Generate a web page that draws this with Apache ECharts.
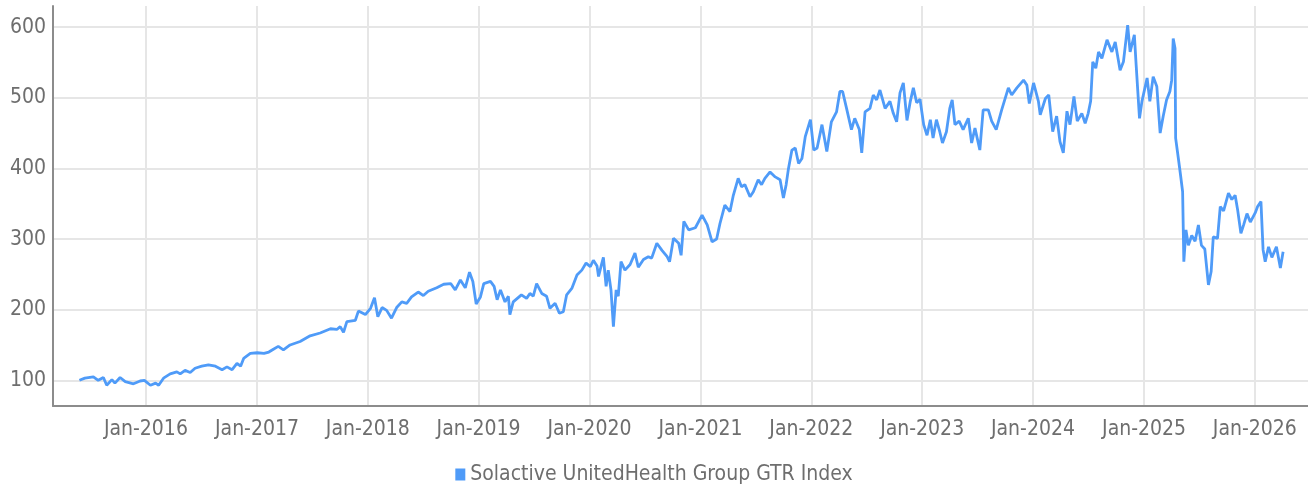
<!DOCTYPE html>
<html>
<head>
<meta charset="utf-8">
<script src="https://cdn.jsdelivr.net/npm/echarts@6/dist/echarts.min.js"></script>
<style>
html,body{margin:0;padding:0;background:#fff;}
#chart{width:1308px;height:491px;}
</style>
</head>
<body>
<div id="chart"></div>
<script>
const seriesName = 'Solactive UnitedHealth Group GTR Index';
const dates = [
'2015-05-27','2015-06-14','2015-07-12','2015-07-28','2015-08-14','2015-08-25','2015-09-11','2015-09-21','2015-10-08','2015-10-25','2015-11-21','2015-12-13','2015-12-27',
'2016-01-16','2016-02-02','2016-02-12','2016-02-28','2016-03-21','2016-04-12','2016-04-23','2016-05-09','2016-05-26','2016-06-11','2016-07-03','2016-07-25','2016-08-17','2016-09-08','2016-09-24','2016-10-11','2016-10-27','2016-11-08','2016-11-18','2016-12-10',
'2017-01-02','2017-01-24','2017-02-09','2017-02-24','2017-03-12','2017-03-29','2017-04-20','2017-05-23','2017-06-25','2017-07-28','2017-08-31','2017-09-21','2017-10-02','2017-10-13','2017-10-24','2017-11-21','2017-12-01','2017-12-24',
'2018-01-10','2018-01-23','2018-02-03','2018-02-17','2018-03-04','2018-03-20','2018-04-06','2018-04-23','2018-05-09','2018-05-25','2018-06-16','2018-07-03','2018-07-19','2018-08-16','2018-09-08','2018-10-01','2018-10-16','2018-11-02','2018-11-18','2018-12-02','2018-12-13','2018-12-24',
'2019-01-07','2019-01-18','2019-02-09','2019-02-21','2019-03-03','2019-03-14','2019-03-29','2019-04-09','2019-04-14','2019-04-25','2019-05-22','2019-06-08','2019-06-19','2019-06-30','2019-07-11','2019-07-28','2019-08-13','2019-08-24','2019-09-10','2019-09-24','2019-10-07','2019-10-18','2019-11-04','2019-11-21','2019-12-07','2019-12-21',
'2020-01-04','2020-01-14','2020-01-26','2020-01-31','2020-02-11','2020-02-16','2020-02-25','2020-03-03','2020-03-12','2020-03-20','2020-03-29','2020-04-05','2020-04-14','2020-04-27','2020-05-14','2020-05-30','2020-06-10','2020-06-27','2020-07-13','2020-07-24','2020-08-10','2020-08-27','2020-09-13','2020-09-21','2020-10-04','2020-10-21','2020-10-29','2020-11-07','2020-11-23','2020-12-15',
'2021-01-06','2021-01-23','2021-02-08','2021-02-23','2021-03-06','2021-03-22','2021-04-08','2021-04-19','2021-05-05','2021-05-16','2021-05-27','2021-06-13','2021-06-24','2021-07-10','2021-07-21','2021-08-01','2021-08-18','2021-09-04','2021-09-20','2021-10-01','2021-10-10','2021-10-17','2021-10-29','2021-11-09','2021-11-20','2021-12-01','2021-12-12','2021-12-29',
'2022-01-09','2022-01-20','2022-02-05','2022-02-21','2022-03-08','2022-03-25','2022-04-05','2022-04-14','2022-04-27','2022-05-13','2022-05-24','2022-06-08','2022-06-16','2022-06-27','2022-07-13','2022-07-24','2022-08-04','2022-08-15','2022-09-01','2022-09-17','2022-09-28','2022-10-09','2022-10-20','2022-10-31','2022-11-12','2022-11-23','2022-12-03','2022-12-14','2022-12-25',
'2023-01-06','2023-01-17','2023-01-28','2023-02-06','2023-02-17','2023-02-28','2023-03-09','2023-03-22','2023-04-02','2023-04-10','2023-04-19','2023-05-03','2023-05-16','2023-06-02','2023-06-13','2023-06-24','2023-07-10','2023-07-21','2023-08-07','2023-08-18','2023-09-02','2023-09-20','2023-10-12','2023-10-23','2023-11-09','2023-12-01','2023-12-12','2023-12-20',
'2024-01-03','2024-01-19','2024-01-25','2024-02-11','2024-02-22','2024-03-06','2024-03-19','2024-03-30','2024-04-10','2024-04-22','2024-05-02','2024-05-15','2024-05-26','2024-06-10','2024-06-21','2024-07-01','2024-07-09','2024-07-16','2024-07-26','2024-08-04','2024-08-15','2024-09-01','2024-09-17','2024-09-28','2024-10-14','2024-10-25','2024-11-08','2024-11-16','2024-11-30','2024-12-06','2024-12-17','2024-12-25',
'2025-01-11','2025-01-20','2025-01-31','2025-02-12','2025-02-23','2025-03-05','2025-03-16','2025-03-27','2025-04-02','2025-04-07','2025-04-13','2025-04-15','2025-04-24','2025-05-01','2025-05-08','2025-05-12','2025-05-19','2025-05-27','2025-06-07','2025-06-18','2025-06-29','2025-07-09','2025-07-20','2025-08-01','2025-08-10','2025-08-17','2025-08-31','2025-09-09','2025-09-20','2025-10-06','2025-10-17','2025-10-28','2025-11-05','2025-11-16','2025-11-25','2025-12-06','2025-12-17',
'2026-01-02','2026-01-10','2026-01-21','2026-01-28','2026-02-04','2026-02-15','2026-02-26','2026-03-13','2026-03-26','2026-04-04'
];
const values = [
100,103,105,100,104,93,101,96,104,98,95,99,100,
93,96,93,103,109,112,109,114,111,117,120,122,120,115,119,115,124,120,131,138,
139,138,140,144,148,143,150,155,163,167,173,172,176,168,183,185,198,193,
202,217,190,203,199,188,203,211,209,218,225,220,226,231,236,237,228,242,231,253,240,208,
218,237,240,233,214,228,211,219,193,211,221,216,223,219,237,223,219,202,209,195,197,221,230,249,256,266,
261,270,262,247,266,274,233,256,228,176,228,219,268,256,264,280,260,271,275,273,294,284,275,268,301,294,277,325,313,316,
334,320,296,300,322,348,339,362,386,374,377,360,367,384,377,386,395,388,384,358,377,398,426,429,407,414,445,469,
426,429,462,424,466,480,509,509,485,455,471,455,422,480,485,504,497,511,485,495,478,466,507,521,468,495,514,493,498,
462,447,469,443,469,452,436,452,485,497,462,467,455,471,436,457,426,483,483,467,455,483,514,504,514,525,518,492,
521,495,476,499,504,452,474,438,422,481,462,502,467,478,464,478,495,551,542,565,556,582,565,579,539,551,603,565,589,546,471,495,
528,495,530,516,450,474,497,509,525,584,570,443,414,391,367,268,313,291,305,297,320,291,286,235,254,303,301,346,340,365,356,362,342,308,320,336,324,
337,346,353,285,268,289,274,289,259,282
];
const yTicks = [100, 200, 300, 400, 500, 600];
const xTickYears = [2016, 2017, 2018, 2019, 2020, 2021, 2022, 2023, 2024, 2025, 2026];

const FONT = "'Liberation Sans Narrow', 'DejaVu Sans Condensed', 'Roboto', sans-serif";
const TXT = '#6e6e6e';
const xTicks = xTickYears.map(y => Date.UTC(y, 0, 1));
const data = dates.map((d, i) => [Date.parse(d + 'T00:00:00Z'), values[i]]);

const chart = echarts.init(document.getElementById('chart'), null, {renderer: 'canvas'});
chart.setOption({
  animation: false,
  backgroundColor: '#ffffff',
  grid: {left: 53, right: 0, top: 6, bottom: 85, containLabel: false},
  legend: {
    top: 459,
    left: 'center',
    icon: 'rect',
    itemWidth: 10,
    itemHeight: 12,
    itemGap: 10,
    textStyle: {fontFamily: FONT, fontSize: 21, color: TXT},
    data: [seriesName]
  },
  xAxis: {
    type: 'value',
    min: Date.UTC(2015, 2, 1),
    max: Date.UTC(2026, 5, 25),
    axisLine: {show: true, lineStyle: {color: '#8c8c8c', width: 2}},
    axisTick: {show: false, customValues: xTicks},
    axisLabel: {
      customValues: xTicks,
      fontFamily: FONT, fontSize: 21, color: TXT, margin: 13,
      formatter: v => 'Jan-' + new Date(v).getUTCFullYear()
    },
    splitLine: {show: true, lineStyle: {color: '#e6e6e6', width: 2}}
  },
  yAxis: {
    type: 'value',
    min: 63.6,
    max: 630,
    axisLine: {show: true, lineStyle: {color: '#8c8c8c', width: 2}},
    axisTick: {show: false, customValues: yTicks},
    axisLabel: {customValues: yTicks, fontFamily: FONT, fontSize: 21, color: TXT, margin: 7},
    splitLine: {show: true, lineStyle: {color: '#e6e6e6', width: 2}}
  },
  series: [{
    name: seriesName,
    type: 'line',
    data: data,
    showSymbol: false,
    symbol: 'none',
    color: '#4f9bf8',
    lineStyle: {width: 2.8, color: '#4f9bf8'}
  }]
});
</script>
</body>
</html>
